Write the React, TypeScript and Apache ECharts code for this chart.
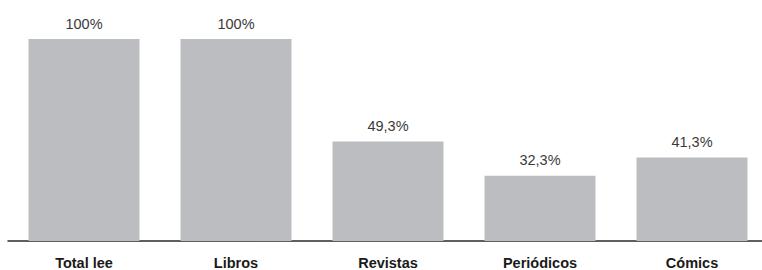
import React, { useEffect, useRef } from "react";
import * as echarts from "echarts";

const categories = ["Total lee", "Libros", "Revistas", "Periódicos", "Cómics"];
const values = [100, 100, 49.3, 32.3, 41.3];
const valueLabels = ["100%", "100%", "49,3%", "32,3%", "41,3%"];

export default function App() {
  const ref = useRef<HTMLDivElement>(null);
  useEffect(() => {
    document.body.style.margin = "0";
    const chart = echarts.init(ref.current!, undefined, { renderer: "svg" });
    chart.setOption({
      animation: false,
      grid: { left: 8, right: 2, top: 39, bottom: 27, containLabel: false },
      xAxis: {
        type: "category",
        data: categories,
        axisLine: { show: true, lineStyle: { color: "#2b2b2b", width: 1.5 } },
        axisTick: { show: false },
        axisLabel: {
          margin: 14,
          color: "#1a1a1a",
          fontFamily: "Liberation Sans",
          fontWeight: "bold",
          fontSize: 14.5,
        },
      },
      yAxis: { type: "value", min: 0, max: 100, show: false, splitLine: { show: false } },
      series: [
        {
          type: "bar",
          data: values,
          barWidth: 111,
          itemStyle: { color: "#bcbdc0" },
          label: {
            show: true,
            position: "top",
            distance: 8,
            color: "#3a3a3a",
            fontFamily: "Liberation Sans",
            fontSize: 14.5,
            formatter: (p: any) => valueLabels[p.dataIndex],
          },
        },
      ],
    });
    return () => chart.dispose();
  }, []);
  return (
    <div style={{ width: 762, height: 270, overflow: "hidden" }}>
      <div ref={ref} style={{ width: 770, height: 270 }} />
    </div>
  );
}
